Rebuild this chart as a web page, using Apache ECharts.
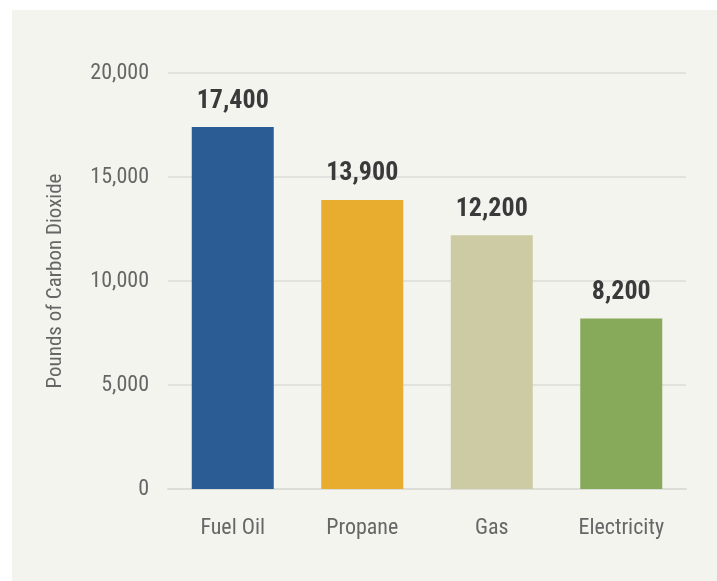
<!DOCTYPE html>
<html><head><meta charset="utf-8">
<script src="https://cdn.jsdelivr.net/npm/echarts@6/dist/echarts.min.js"></script>
<style>
html,body{margin:0;padding:0;background:#ffffff;}
#wrap{position:absolute;left:12px;top:10px;width:705px;height:571px;background:#f4f4ef;}
#c{position:absolute;left:0;top:0;width:717px;height:581px;}
</style></head>
<body>
<div id="wrap"></div>
<div id="c"></div>
<script>
const categories = ['Fuel Oil', 'Propane', 'Gas', 'Electricity'];
const values = [17400, 13900, 12200, 8200];
const barColors = ['#2b5c94', '#e8ad2f', '#cdcba3', '#87a95a'];
const yTicks = [0, 5000, 10000, 15000, 20000];
const yName = 'Pounds of Carbon Dioxide';

const FONT = '"Liberation Sans Narrow", "Roboto Condensed", "DejaVu Sans Condensed", sans-serif';
const chart = echarts.init(document.getElementById('c'));
chart.setOption({
  backgroundColor: 'transparent',
  animation: false,
  grid: { left: 168, right: 31, top: 73, bottom: 92 },
  xAxis: {
    type: 'category',
    data: categories,
    axisTick: { show: false },
    axisLine: { lineStyle: { color: '#dcdcd8', width: 2 } },
    axisLabel: { color: '#666666', fontSize: 22, fontFamily: FONT, margin: 28 }
  },
  yAxis: {
    type: 'value',
    min: yTicks[0],
    max: yTicks[yTicks.length - 1],
    interval: yTicks[1] - yTicks[0],
    name: yName,
    nameLocation: 'middle',
    nameGap: 102,
    nameTextStyle: { color: '#666666', fontSize: 21, fontFamily: FONT },
    axisLine: { show: false },
    axisTick: { show: false },
    splitLine: { lineStyle: { color: '#dcdcd8', width: 1.5 } },
    axisLabel: {
      color: '#666666', fontSize: 22, fontFamily: FONT, margin: 19,
      padding: [8, 0, 0, 0],
      formatter: v => v.toLocaleString('en-US')
    }
  },
  series: [{
    type: 'bar',
    barWidth: 82,
    data: values.map((v, i) => ({ value: v, itemStyle: { color: barColors[i] } })),
    label: {
      show: true,
      position: 'top',
      distance: 13,
      color: '#3a3a3a',
      fontSize: 26,
      fontWeight: 'bold',
      fontFamily: FONT,
      formatter: p => p.value.toLocaleString('en-US')
    }
  }]
});
</script>
</body></html>
